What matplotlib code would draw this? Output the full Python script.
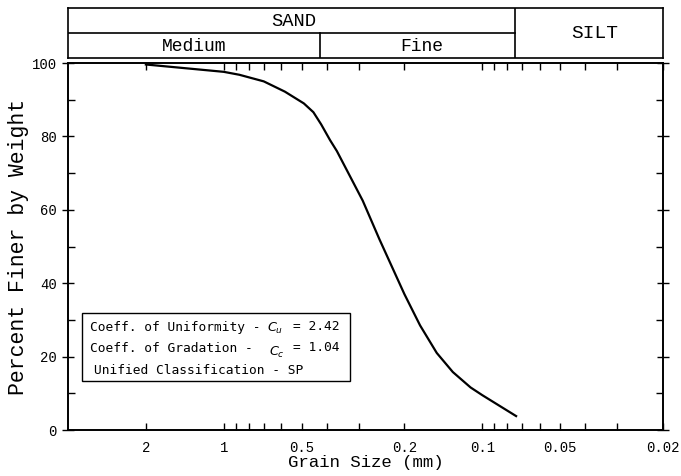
import matplotlib
matplotlib.use("Agg")
import matplotlib.pyplot as plt
from matplotlib.patches import Rectangle
from matplotlib.ticker import FixedLocator, FixedFormatter, NullFormatter, MultipleLocator

# ---- data ----
grain_size_mm = [2.0, 1.0, 0.87, 0.70, 0.58, 0.49, 0.45, 0.42, 0.388, 0.365, 0.29,
                 0.25, 0.20, 0.174, 0.15, 0.13, 0.111, 0.10, 0.074]
percent_finer = [99.6, 97.6, 96.8, 95.0, 92.2, 89.0, 86.6, 83.3, 79.0, 76.0, 62.5,
                 52.0, 37.0, 28.5, 21.0, 15.8, 11.6, 9.5, 3.8]

x_major = [2, 1, 0.5, 0.2, 0.1, 0.05, 0.02]
x_major_labels = ["2", "1", "0.5", "0.2", "0.1", "0.05", "0.02"]
x_minor = [0.9, 0.8, 0.7, 0.6, 0.4, 0.3, 0.09, 0.08, 0.07, 0.06, 0.04, 0.03]
y_major = [0, 20, 40, 60, 80, 100]

# soil class boundaries (mm)
silt_sand_boundary = 0.075
medium_fine_boundary = 0.425
header_top = ["SAND", "SILT"]
header_sub = ["Medium", "Fine"]
info_left = ["Coeff. of Uniformity -", "Coeff. of Gradation -", "Unified Classification - SP"]
info_sym = ["$C_u$", "$C_c$", ""]
info_val = ["= 2.42", "= 1.04", ""]

mono = "Liberation Mono"
small = "DejaVu Sans Mono"

fig = plt.figure(figsize=(6.81, 4.76), dpi=100)
ax = fig.add_axes([0.0999, 0.0966, 0.8737, 0.771])

ax.plot(grain_size_mm, percent_finer, color="black", lw=1.6)
ax.set_xscale("log")
ax.set_xlim(4.0, 0.02)
ax.set_ylim(0, 100)

ax.xaxis.set_major_locator(FixedLocator(x_major))
ax.xaxis.set_major_formatter(FixedFormatter(x_major_labels))
ax.xaxis.set_minor_locator(FixedLocator(x_minor))
ax.xaxis.set_minor_formatter(NullFormatter())
ax.yaxis.set_major_locator(FixedLocator(y_major))
ax.yaxis.set_minor_locator(MultipleLocator(10))

ax.tick_params(axis="x", which="both", direction="in", top=True, bottom=True,
               length=5, width=1.0, labelsize=10, pad=8)
ax.tick_params(axis="y", which="major", direction="inout", left=True, right=True,
               length=9, width=1.0, labelsize=10)
ax.tick_params(axis="y", which="minor", direction="in", left=True, right=True,
               length=5, width=1.0)
for lab in ax.get_xticklabels() + ax.get_yticklabels():
    lab.set_fontfamily(mono)
for s in ax.spines.values():
    s.set_linewidth(1.4)

ax.set_xlabel("Grain Size (mm)", fontfamily=mono, fontsize=12.5, labelpad=0)
ax.set_ylabel("Percent Finer by Weight", fontfamily=mono, fontsize=15.5, labelpad=2)

# info box
ax.add_patch(Rectangle((0.0235, 0.1335), 0.45, 0.1855, transform=ax.transAxes,
                       fill=False, lw=1.0, ec="black"))
line_y = [0.278, 0.221, 0.163]
for i in range(3):
    ax.text(0.037 if i < 2 else 0.043, line_y[i], info_left[i], transform=ax.transAxes,
            fontsize=9.3, va="center", ha="left", fontfamily=small)
    if info_sym[i]:
        ax.text(0.335 if i == 0 else 0.338, line_y[i] - (0.0 if i == 0 else 0.01),
                info_sym[i], transform=ax.transAxes, fontsize=9.3, va="center",
                ha="left", fontfamily=small)
        ax.text(0.378, line_y[i] + 0.004, info_val[i], transform=ax.transAxes,
                fontsize=9.3, va="center", ha="left", fontfamily=small)

# header table
hx = fig.add_axes([0.0999, 0.878, 0.8737, 0.105])
hx.set_xscale("log")
hx.set_xlim(4.0, 0.02)
hx.set_ylim(0, 1)
hx.set_xticks([])
hx.set_yticks([])
hx.minorticks_off()
for s in hx.spines.values():
    s.set_linewidth(1.2)
hx.plot([silt_sand_boundary] * 2, [0, 1], color="black", lw=1.2)
hx.plot([4.0, silt_sand_boundary], [0.5, 0.5], color="black", lw=1.2)
hx.plot([medium_fine_boundary] * 2, [0, 0.5], color="black", lw=1.2)
hx.text(0.38, 0.74, header_top[0], transform=hx.transAxes, ha="center", va="center",
        fontfamily=mono, fontsize=13.5)
hx.text(0.885, 0.5, header_top[1], transform=hx.transAxes, ha="center", va="center",
        fontfamily=mono, fontsize=14)
hx.text(0.212, 0.24, header_sub[0], transform=hx.transAxes, ha="center", va="center",
        fontfamily=mono, fontsize=13)
hx.text(0.595, 0.24, header_sub[1], transform=hx.transAxes, ha="center", va="center",
        fontfamily=mono, fontsize=13)

fig.savefig("out.png", dpi=100)
